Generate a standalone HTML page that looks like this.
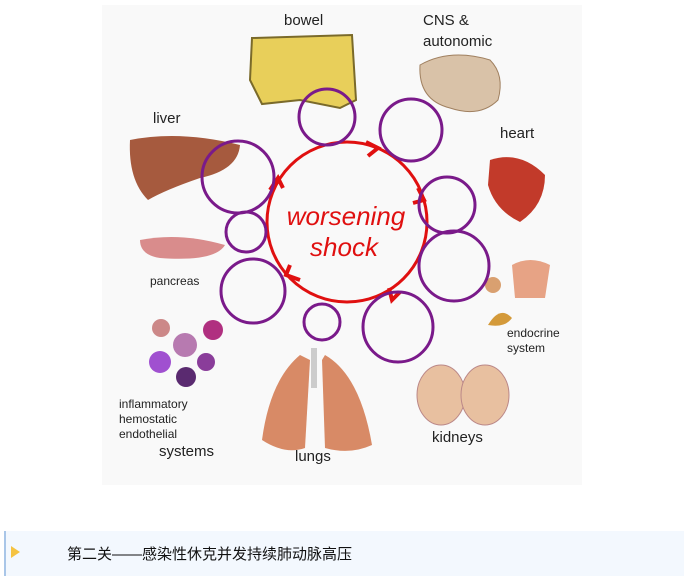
<!DOCTYPE html>
<html><head><meta charset="utf-8"><style>
body{margin:0;width:684px;height:583px;background:#fff;position:relative;overflow:hidden;font-family:"Liberation Sans",sans-serif}
#img{position:absolute;left:102px;top:5px;width:480px;height:480px;background:#f9f9f9}
#bar{position:absolute;left:4px;top:531px;width:680px;height:45px;background:#f3f8fe;border-left:2px solid #a9c6e8}
#bar .t{position:absolute;left:5px;top:15px;width:0;height:0;border-top:6px solid transparent;border-bottom:6px solid transparent;border-left:9px solid #f5c342}
#bar .x{position:absolute;left:61px;top:12px;font:15px "Liberation Sans","Noto Sans CJK SC",sans-serif;color:#111}
</style></head><body>
<div id="img"></div>
<svg width="684" height="583" style="position:absolute;left:0;top:0" font-family="Liberation Sans, sans-serif">
<!-- organs -->
<path d="M252 38 L352 35 L356 100 L340 108 L300 100 L262 104 L250 80 Z" fill="#e8cf5a" stroke="#7a6a2a" stroke-width="2"/>
<path d="M420 65 Q450 48 490 60 Q505 75 498 100 Q480 118 450 108 Q418 100 420 65Z" fill="#d9c2a8" stroke="#a08060"/>
<path d="M130 140 Q180 130 240 145 Q238 170 200 178 Q165 190 148 200 Q128 180 130 140Z" fill="#a65a3e"/>
<path d="M490 160 Q520 150 545 175 Q545 205 520 222 Q495 210 488 185Z" fill="#c23a2a"/>
<path d="M140 240 Q180 232 225 245 Q215 262 160 258 Q140 255 140 240Z" fill="#d98c8c"/>
<path d="M512 265 Q530 255 550 265 L545 298 L515 298Z" fill="#e7a385"/>
<circle cx="493" cy="285" r="8" fill="#d9a070"/>
<path d="M488 325 Q500 305 512 318 Q505 328 488 325Z" fill="#d49a3a"/>
<path d="M300 355 Q270 380 262 440 Q285 455 305 448 L310 360Z" fill="#d88a66"/>
<path d="M325 355 Q360 375 372 445 Q350 455 325 448 L322 360Z" fill="#d88a66"/>
<rect x="311" y="348" width="6" height="40" fill="#ccc"/>
<ellipse cx="441" cy="395" rx="24" ry="30" fill="#e8c0a0" stroke="#b88"/>
<ellipse cx="485" cy="395" rx="24" ry="30" fill="#e8c0a0" stroke="#b88"/>
<g fill="#8a3d9a"><circle cx="161" cy="328" r="9" fill="#c88"/><circle cx="185" cy="345" r="12" fill="#b77ab0"/><circle cx="213" cy="330" r="10" fill="#b03080"/><circle cx="160" cy="362" r="11" fill="#a050d0"/><circle cx="206" cy="362" r="9"/><circle cx="186" cy="377" r="10" fill="#5a2a70"/></g>
<!-- red circle -->
<circle cx="347" cy="222" r="80" fill="none" stroke="#e01010" stroke-width="3"/>
<g stroke="#e01010" stroke-width="4" fill="none"><path d="M366 142 l12 6 l-10 8"/><path d="M418 188 l6 12 l-11 3"/><path d="M400 292 l-8 8 l-3 -12"/><path d="M300 280 l-14 -5 l4 -10"/><path d="M270 190 l8 -12 l5 10"/></g>
<text x="346" y="225" fill="#e01010" font-size="26" font-style="italic" text-anchor="middle">worsening</text>
<text x="344" y="256" fill="#e01010" font-size="26" font-style="italic" text-anchor="middle">shock</text>
<!-- purple circles -->
<g fill="none" stroke="#7a1a8a" stroke-width="3">
<circle cx="327" cy="117" r="28"/><circle cx="411" cy="130" r="31"/><circle cx="238" cy="177" r="36"/>
<circle cx="246" cy="232" r="20"/><circle cx="253" cy="291" r="32"/><circle cx="447" cy="205" r="28"/>
<circle cx="454" cy="266" r="35"/><circle cx="398" cy="327" r="35"/><circle cx="322" cy="322" r="18"/>
</g>
<!-- labels -->
<g fill="#222" font-size="15"><text x="284" y="25">bowel</text><text x="423" y="25">CNS &amp;</text><text x="423" y="46">autonomic</text>
<text x="153" y="123">liver</text><text x="500" y="138">heart</text><text x="150" y="285" font-size="12">pancreas</text>
<text x="507" y="337" font-size="12">endocrine</text><text x="507" y="352" font-size="12">system</text>
<text x="119" y="408" font-size="12">inflammatory</text><text x="119" y="423" font-size="12">hemostatic</text><text x="119" y="438" font-size="12">endothelial</text>
<text x="159" y="456">systems</text><text x="295" y="461">lungs</text><text x="432" y="442">kidneys</text></g>
</svg>
<div id="bar"><div class="t"></div><div class="x">第二关——感染性休克并发持续肺动脉高压</div></div>
</body></html>
